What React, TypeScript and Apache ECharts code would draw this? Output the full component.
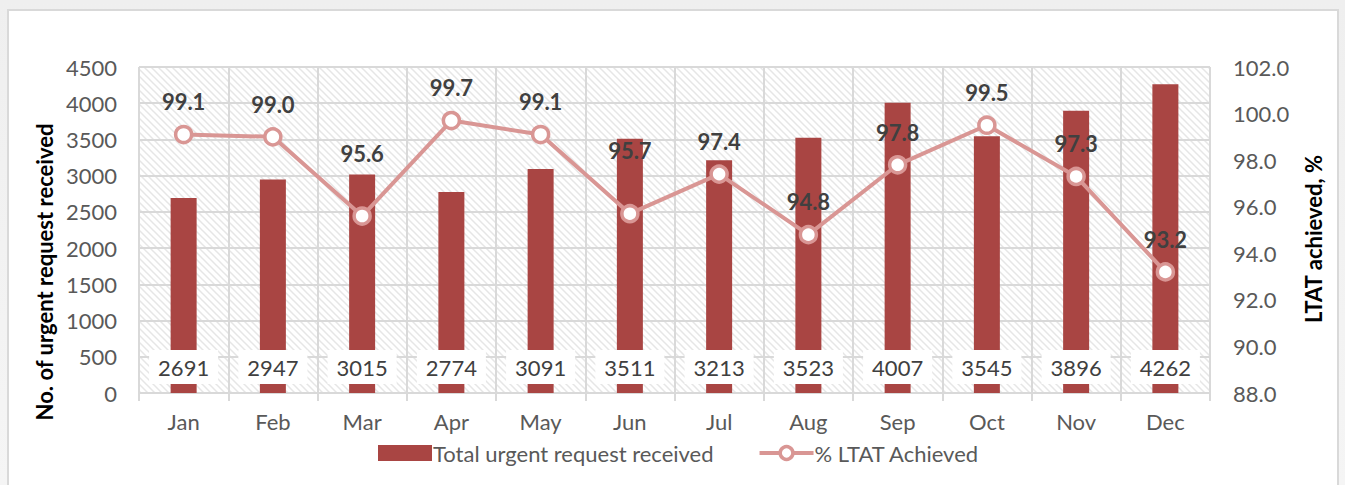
import React, { useEffect, useRef } from "react";
import * as echarts from "echarts";

const months = ["Jan", "Feb", "Mar", "Apr", "May", "Jun", "Jul", "Aug", "Sep", "Oct", "Nov", "Dec"];
const totalRequests = [2691, 2947, 3015, 2774, 3091, 3511, 3213, 3523, 4007, 3545, 3896, 4262];
const ltatAchieved = [99.1, 99.0, 95.6, 99.7, 99.1, 95.7, 97.4, 94.8, 97.8, 99.5, 97.3, 93.2];
// months whose percentage label sits higher above the marker
const raisedLabels = ["Mar", "Jun"];

const FONT = "Lato, 'Noto Sans', sans-serif";
const BAR_COLOR = "#A94543";
const LINE_COLOR = "#D99694";
const GRID_COLOR = "#D9D9D9";

function makeHatch(): HTMLCanvasElement {
  const c = document.createElement("canvas");
  const s = 7;
  c.width = s;
  c.height = s;
  const ctx = c.getContext("2d")!;
  ctx.fillStyle = "#ffffff";
  ctx.fillRect(0, 0, s, s);
  ctx.strokeStyle = "#E6E6E6";
  ctx.lineWidth = 1.5;
  ctx.beginPath();
  ctx.moveTo(-1, -1);
  ctx.lineTo(s + 1, s + 1);
  ctx.moveTo(-1, s - 1);
  ctx.lineTo(1, s + 1);
  ctx.moveTo(s - 1, -1);
  ctx.lineTo(s + 1, 1);
  ctx.stroke();
  return c;
}

export default function App() {
  const ref = useRef<HTMLDivElement>(null);

  useEffect(() => {
    if (!ref.current) return;
    const chart = echarts.init(ref.current, undefined, { renderer: "svg" });
    const hatch = makeHatch();

    chart.setOption({
      animation: false,
      backgroundColor: "transparent",
      textStyle: { fontFamily: FONT },
      grid: {
        left: 139,
        right: 135,
        top: 67,
        bottom: 92,
        show: true,
        borderWidth: 0,
        backgroundColor: { image: hatch, repeat: "repeat" },
      },
      legend: {
        left: 373,
        top: 437,
        itemWidth: 54,
        itemHeight: 16,
        itemGap: 44,
        textStyle: { fontFamily: FONT, fontSize: 22, color: "#595959", padding: [0, 0, 0, -4] },
        data: [
          { name: "Total urgent request received", icon: "rect" },
          {
            name: "% LTAT Achieved",
            lineStyle: { width: 4, color: LINE_COLOR },
            itemStyle: { color: "#ffffff", borderColor: LINE_COLOR, borderWidth: 3.5 },
          },
        ],
      },
      xAxis: {
        type: "category",
        data: months,
        boundaryGap: true,
        axisLine: { show: true, lineStyle: { color: GRID_COLOR, width: 2 } },
        axisTick: { show: true, length: 8, lineStyle: { color: GRID_COLOR, width: 2 } },
        axisLabel: { fontFamily: FONT, fontSize: 22, color: "#595959", margin: 17 },
        splitLine: { show: true, lineStyle: { color: GRID_COLOR, width: 2 } },
      },
      yAxis: [
        {
          type: "value",
          min: 0,
          max: 4500,
          interval: 500,
          name: "No. of urgent request received",
          nameLocation: "middle",
          nameRotate: 90,
          nameGap: 84,
          nameTextStyle: {
            fontFamily: FONT,
            fontSize: 22,
            fontWeight: "bold",
            color: "#000000",
            padding: [0, 84, 0, 0],
          },
          axisLine: { show: false },
          axisTick: { show: false },
          axisLabel: {
            fontFamily: FONT,
            fontSize: 22,
            color: "#595959",
            margin: 22,
            formatter: (v: number) => String(v),
          },
          splitLine: { show: true, lineStyle: { color: GRID_COLOR, width: 2 } },
        },
        {
          type: "value",
          min: 88,
          max: 102,
          interval: 2,
          name: "LTAT achieved, %",
          nameLocation: "middle",
          nameRotate: 90,
          nameGap: 92,
          nameTextStyle: {
            fontFamily: FONT,
            fontSize: 22,
            fontWeight: "bold",
            color: "#000000",
            padding: [0, 18, 0, 0],
          },
          axisLine: { show: false },
          axisTick: { show: false },
          axisLabel: {
            fontFamily: FONT,
            fontSize: 22,
            color: "#595959",
            margin: 23,
            formatter: (v: number) => v.toFixed(1),
          },
          splitLine: { show: false },
        },
      ],
      series: [
        {
          name: "Total urgent request received",
          type: "bar",
          yAxisIndex: 0,
          data: totalRequests,
          barWidth: 26,
          itemStyle: { color: BAR_COLOR },
          label: {
            show: true,
            position: "insideBottom",
            distance: 9,
            fontFamily: FONT,
            fontSize: 22,
            lineHeight: 24,
            color: "#404040",
            backgroundColor: "#ffffff",
            padding: [5, 9],
          },
          z: 2,
        },
        {
          name: "% LTAT Achieved",
          type: "line",
          yAxisIndex: 1,
          data: ltatAchieved.map((v, i) =>
            raisedLabels.includes(months[i])
              ? { value: v, label: { offset: [0, -30] } }
              : { value: v }
          ),
          symbol: "circle",
          symbolSize: 16,
          lineStyle: { color: LINE_COLOR, width: 4 },
          itemStyle: { color: "#ffffff", borderColor: LINE_COLOR, borderWidth: 3.5 },
          label: {
            show: true,
            position: "top",
            distance: 12,
            fontFamily: FONT,
            fontSize: 22,
            fontWeight: "bold",
            color: "#404040",
            formatter: (p: any) => Number(p.value).toFixed(1),
          },
          z: 3,
        },
      ],
    });

    return () => chart.dispose();
  }, []);

  return (
    <div
      style={{
        position: "fixed",
        left: 0,
        top: 0,
        width: 1345,
        height: 485,
        background: "linear-gradient(180deg, #efefef 0%, #f5f5f5 100%)",
        overflow: "hidden",
      }}
    >
      <div
        style={{
          position: "absolute",
          left: 7,
          top: 9,
          width: 1332,
          height: 490,
          background: "#ffffff",
          border: "2px solid #D9D9D9",
          boxSizing: "border-box",
        }}
      />
      <div ref={ref} style={{ position: "absolute", left: 0, top: 0, width: 1345, height: 485 }} />
    </div>
  );
}
